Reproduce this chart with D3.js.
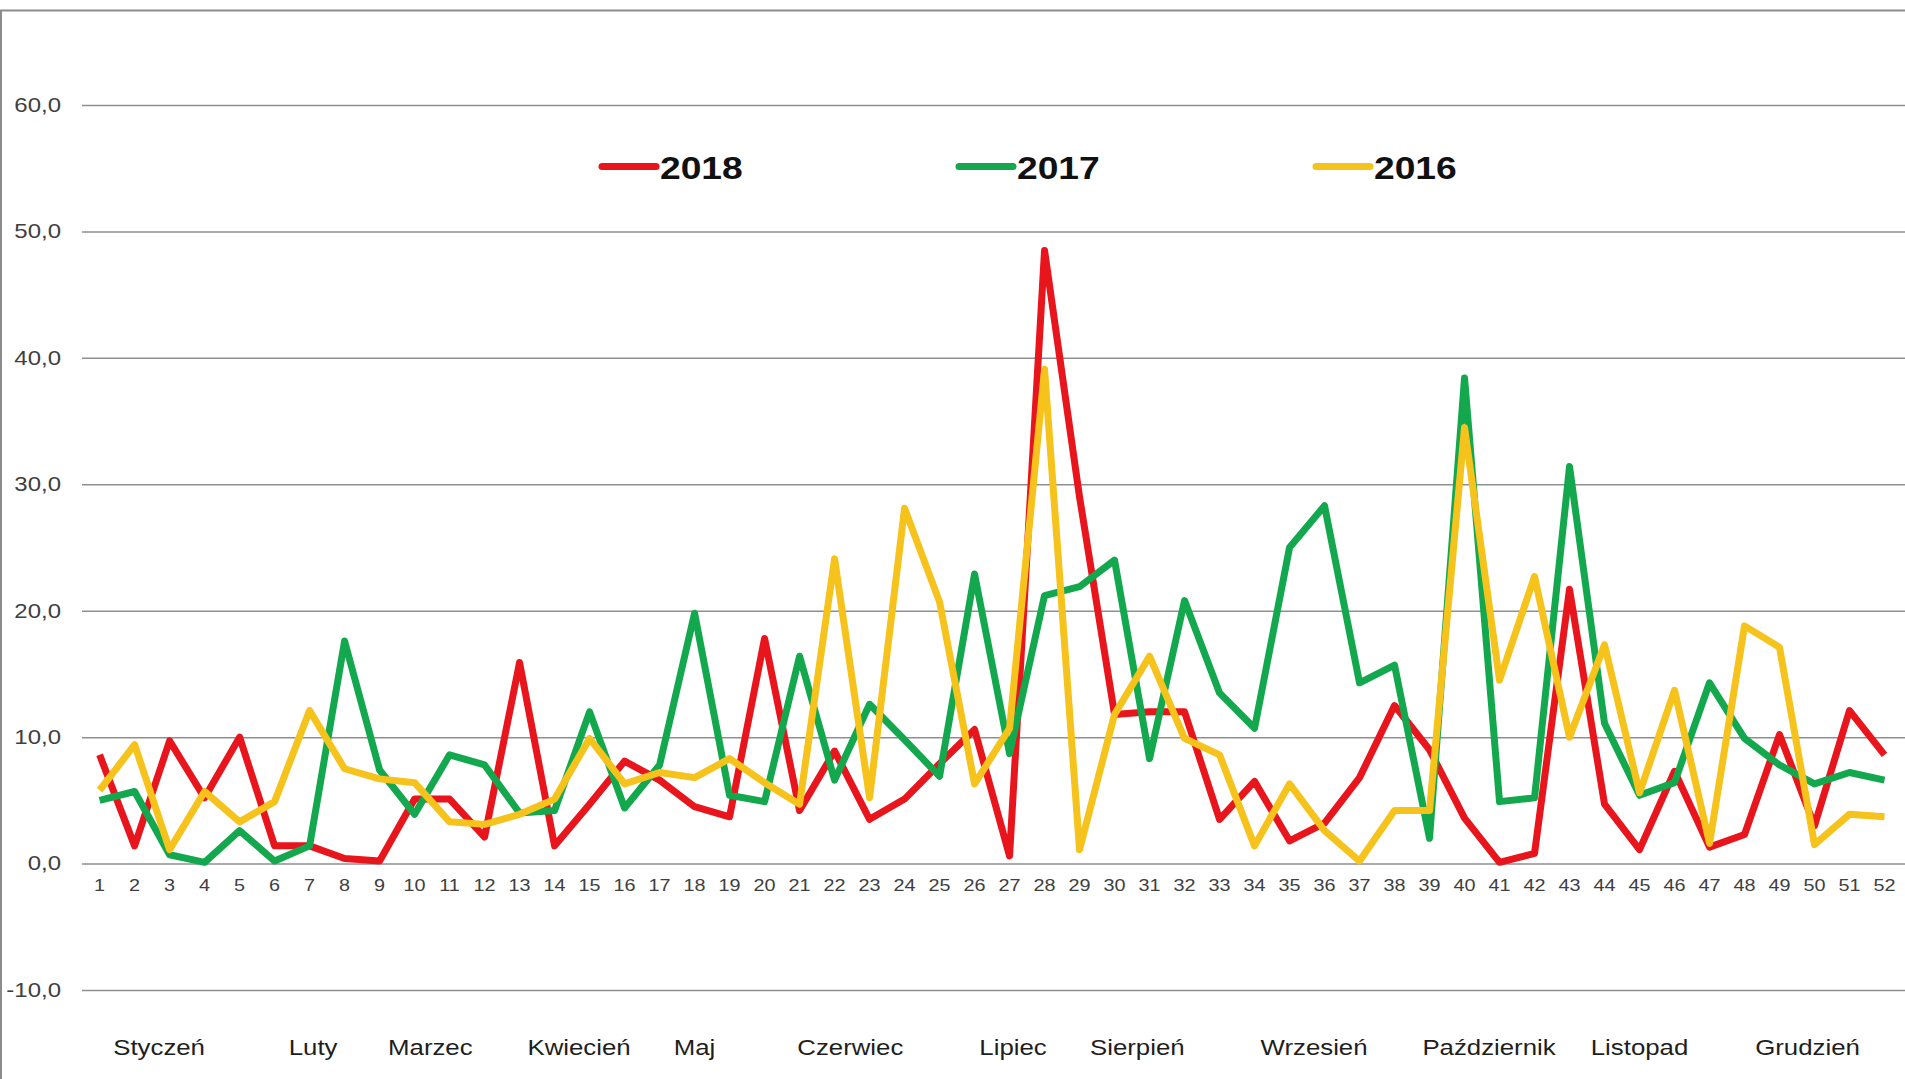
<!DOCTYPE html>
<meta charset="utf-8">
<title>Tygodnie 2016-2018</title>
<script src="https://d3js.org/d3.v7.min.js"></script>
<style>
    body { margin: 0; background: #fff; }
    text { font-family: "Liberation Sans", Arial, sans-serif; }
</style>
<body>
<div id="chart"></div>
<script>
    // week numbers on the x axis
    var weeks = d3.range(1, 53);

    var years = ["2018", "2017", "2016"];

    var values2018 = [8.6, 1.4, 9.7, 5.2, 10.0, 1.4, 1.4, 0.4, 0.2, 5.1,
        5.1, 2.1, 15.9, 1.4, 4.7, 8.1, 6.6, 4.5, 3.7, 17.8,
        4.2, 8.9, 3.5, 5.1, 7.9, 10.6, 0.6, 48.5, 29.0, 11.8,
        12.0, 12.0, 3.5, 6.5, 1.8, 3.2, 6.8, 12.5, 9.0, 3.6,
        0.1, 0.8, 21.7, 4.7, 1.1, 7.3, 1.3, 2.3, 10.2, 3.0,
        12.1, 8.6];

    var values2017 = [5.0, 5.7, 0.7, 0.1, 2.6, 0.2, 1.4, 17.6, 7.4, 3.9,
        8.6, 7.8, 4.0, 4.2, 12.0, 4.4, 7.8, 19.8, 5.4, 4.9,
        16.4, 6.6, 12.6, 9.8, 6.9, 22.9, 8.7, 21.2, 21.9, 24.0,
        8.3, 20.8, 13.5, 10.7, 25.0, 28.3, 14.3, 15.7, 2.0, 38.4,
        4.9, 5.2, 31.4, 11.1, 5.4, 6.4, 14.3, 9.9, 7.8, 6.3,
        7.2, 6.6];

    var values2016 = [5.8, 9.4, 1.1, 5.7, 3.3, 4.9, 12.1, 7.5, 6.7, 6.4,
        3.3, 3.1, 3.9, 5.1, 9.9, 6.3, 7.2, 6.8, 8.3, 6.4,
        4.7, 24.1, 5.2, 28.1, 20.7, 6.3, 10.7, 39.1, 1.1, 11.8,
        16.4, 9.9, 8.6, 1.4, 6.3, 2.6, 0.2, 4.2, 4.2, 34.5,
        14.5, 22.7, 10.0, 17.3, 5.6, 13.7, 1.6, 18.8, 17.1, 1.5,
        3.9, 3.7];

    var yTicks = [-10, 0, 10, 20, 30, 40, 50, 60];

    var months = ["Styczeń", "Luty", "Marzec", "Kwiecień", "Maj", "Czerwiec",
        "Lipiec", "Sierpień", "Wrzesień", "Październik", "Listopad", "Grudzień"];
    // where each month name sits, in week units
    var monthWeek = [2.7, 7.1, 10.45, 14.7, 18, 22.45, 27.1, 30.65, 35.7, 40.7, 45, 49.8];

    var series = [values2018, values2017, values2016];
    var colors = ["#e8151d", "#14a84e", "#f6c21c"];

    var W = 1905, H = 1079;
    var gridLeft = 82;
    var sx = 1.2; // the original picture is stretched sideways

    var x = d3.scaleLinear().domain([1, 52]).range([99.6, 1884.5]);
    var y = d3.scaleLinear().domain([-10, 60]).range([990, 105]);

    var svg = d3.select("#chart").append("svg")
        .attr("width", W)
        .attr("height", H);

    svg.append("rect").attr("width", W).attr("height", H).attr("fill", "#fff");

    // frame
    svg.append("path")
        .attr("d", "M1," + H + "V10.5H" + W)
        .attr("fill", "none")
        .attr("stroke", "#8c8c8c")
        .attr("stroke-width", 2);

    // gridlines + y labels
    var yAxis = svg.append("g")
        .attr("transform", "translate(" + W + ",0)")
        .call(d3.axisLeft(y)
            .tickValues(yTicks)
            .tickSize(W - gridLeft)
            .tickPadding(21)
            .tickFormat(function(d) { return d3.format(".1f")(d).replace(".", ",").replace("\u2212", "-"); }));
    yAxis.select(".domain").remove();
    yAxis.selectAll(".tick line").attr("stroke", "#8f8f8f").attr("stroke-width", 1.5);
    yAxis.selectAll(".tick text")
        .attr("fill", "#404040")
        .style("font-size", "20px")
        .attr("transform", function() {
            return "translate(" + d3.select(this).attr("x") + ",0) scale(" + sx + ",1)";
        })
        .attr("x", 0);

    // week numbers
    svg.append("g").selectAll("text")
        .data(weeks)
        .join("text")
        .attr("transform", function(d) { return "translate(" + x(d) + ",890.5) scale(" + sx + ",1)"; })
        .attr("text-anchor", "middle")
        .style("font-size", "16.5px")
        .attr("fill", "#404040")
        .text(function(d) { return d; });

    // month names
    svg.append("g").selectAll("text")
        .data(months)
        .join("text")
        .attr("transform", function(d, i) { return "translate(" + x(monthWeek[i]) + ",1055) scale(" + sx + ",1)"; })
        .attr("text-anchor", "middle")
        .style("font-size", "21.5px")
        .attr("fill", "#1e1e1e")
        .text(function(d) { return d; });

    // the lines
    var line = d3.line()
        .x(function(d, i) { return x(weeks[i]); })
        .y(function(d) { return y(d); });

    svg.append("g").selectAll("path")
        .data(series)
        .join("path")
        .attr("d", line)
        .attr("fill", "none")
        .attr("stroke", function(d, i) { return colors[i]; })
        .attr("stroke-width", 7)
        .attr("stroke-linejoin", "round");

    // legend
    var legend = svg.append("g").selectAll("g")
        .data(years)
        .join("g")
        .attr("transform", function(d, i) { return "translate(" + (602 + i * 357) + ",0)"; });

    legend.append("line")
        .attr("x1", 0).attr("x2", 54)
        .attr("y1", 166.5).attr("y2", 166.5)
        .attr("stroke", function(d, i) { return colors[i]; })
        .attr("stroke-width", 7)
        .attr("stroke-linecap", "round");

    legend.append("text")
        .attr("transform", "translate(58,178.5) scale(" + sx + ",1)")
        .style("font-size", "31px")
        .style("font-weight", "bold")
        .attr("fill", "#111")
        .text(function(d) { return d; });
</script>
</body>
